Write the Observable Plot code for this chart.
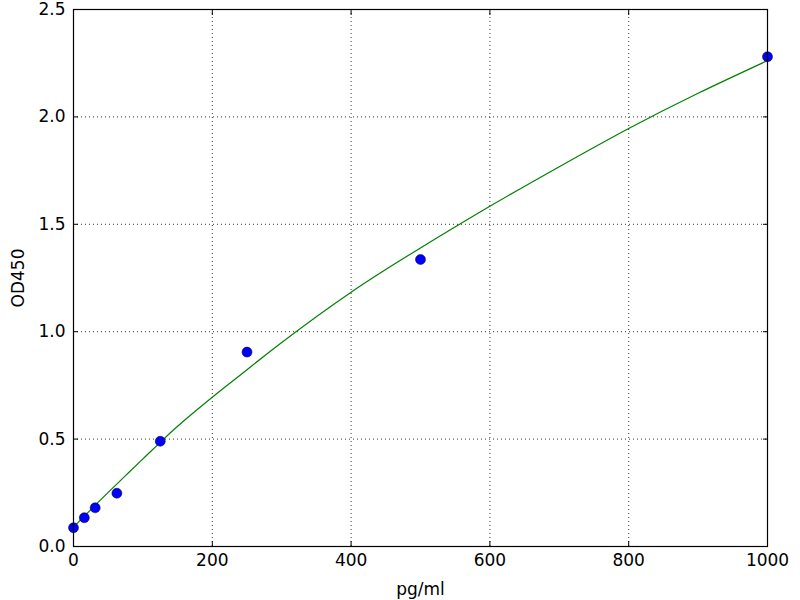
<!DOCTYPE html>
<html>
<head>
<meta charset="utf-8">
<script src="https://cdn.jsdelivr.net/npm/d3@7"></script>
<script src="https://cdn.jsdelivr.net/npm/@observablehq/plot@0.6"></script>
<style>
  body { margin: 0; background: #fff; }
  svg { font-family: "DejaVu Sans", sans-serif; }
</style>
</head>
<body>
<div id="chart"></div>
<script>
// standard points (concentration vs OD)
const conc = [0, 15.6, 31.25, 62.5, 125, 250, 500, 1000];
const od = [0.087, 0.134, 0.18, 0.248, 0.49, 0.905, 1.336, 2.28];

// fitted curve
const fitX = [0, 25, 50, 75, 100, 125, 150, 200, 250, 300, 400, 500, 600, 700, 800, 900, 1000];
const fitY = [0.09, 0.172, 0.252, 0.33, 0.408, 0.485, 0.56, 0.695, 0.823, 0.95, 1.184, 1.39, 1.584, 1.768, 1.946, 2.11, 2.262];

const xTicks = [0, 200, 400, 600, 800, 1000];
const yTicks = [0, 0.5, 1.0, 1.5, 2.0, 2.5];

const points = conc.map((c, i) => ({ x: c, y: od[i] }));
const fit = fitX.map((c, i) => ({ x: c, y: fitY[i] }));

const chart = Plot.plot({
  width: 800,
  height: 600,
  marginLeft: 73,
  marginRight: 33,
  marginTop: 9,
  marginBottom: 54,
  style: { fontSize: "17px", fontFamily: "DejaVu Sans, sans-serif", color: "#000" },
  x: { domain: [0, 1000] },
  y: { domain: [0, 2.5] },
  marks: [
    Plot.gridX(xTicks, { stroke: "#000", strokeOpacity: 1, strokeWidth: 0.8, strokeDasharray: "1,3" }),
    Plot.gridY(yTicks, { stroke: "#000", strokeOpacity: 1, strokeWidth: 0.8, strokeDasharray: "1,3" }),
    // inward ticks on all four sides
    Plot.axisX(xTicks, { anchor: "bottom", tickSize: -5, text: null, label: null }),
    Plot.axisX(xTicks, { anchor: "top", tickSize: -5, text: null, label: null }),
    Plot.axisY(yTicks, { anchor: "left", tickSize: -5, text: null, label: null }),
    Plot.axisY(yTicks, { anchor: "right", tickSize: -5, text: null, label: null }),
    Plot.axisX(xTicks, {
      anchor: "bottom", tickSize: 0, tickPadding: 7, fontSize: 17, tickFormat: d => String(d),
      label: "pg/ml", labelAnchor: "center", labelArrow: "none", labelOffset: 48
    }),
    Plot.axisY(yTicks, {
      anchor: "left", tickSize: 0, tickPadding: 8, fontSize: 17, tickFormat: d => d.toFixed(1),
      label: "OD450", labelAnchor: "center", labelArrow: "none", labelOffset: 62
    }),
    Plot.line(fit, { x: "x", y: "y", stroke: "#008000", strokeWidth: 1.2, curve: "natural" }),
    Plot.dot(points, { x: "x", y: "y", r: 5, fill: "#0000ff", stroke: "#000", strokeWidth: 0.5 }),
    Plot.frame({ stroke: "#000", strokeWidth: 1.2 })
  ]
});
document.getElementById("chart").append(chart);
</script>
</body>
</html>
